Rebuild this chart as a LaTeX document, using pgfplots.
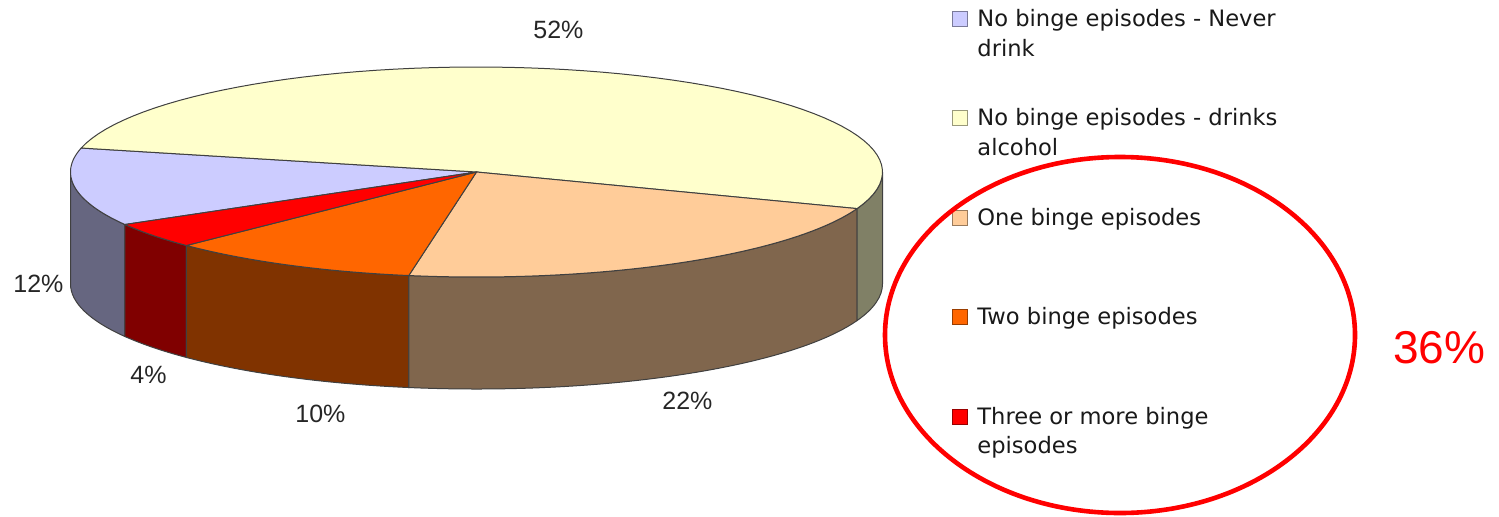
\documentclass[border=0pt]{standalone}
\usepackage{pgfplots}
\pgfplotsset{compat=1.18}
\usepackage{pgfplotstable}
\usepackage{fontspec}
\setmainfont{DejaVu Sans}
\newfontfamily\arialfont{Liberation Sans}

\definecolor{blueT}{HTML}{CCCCFF}\definecolor{blueS}{HTML}{666680}
\definecolor{yelT}{HTML}{FFFFCC}\definecolor{yelS}{HTML}{808066}
\definecolor{peaT}{HTML}{FFCC99}\definecolor{peaS}{HTML}{80664D}
\definecolor{oraT}{HTML}{FF6600}\definecolor{oraS}{HTML}{803300}
\definecolor{redT}{HTML}{FF0000}\definecolor{redS}{HTML}{800000}
\definecolor{edge}{HTML}{404040}

% share of each group, in legend order
\pgfplotstableread{
pct
12
52
22
10
4
}\piedata

\def\cx{476.5}\def\cy{344}\def\rx{406}\def\ry{105}\def\dd{112}

\newcommand\wall[3]{%
  \addplot[fill=#3, draw=edge, line width=0.5pt, domain=#1:#2, samples=40]
    ({\cx+\rx*cos(x)}, {\cy+\ry*sin(x)})
    -- (axis cs:{\cx+\rx*cos(#2)},{\cy-\dd+\ry*sin(#2)})
    arc[start angle=#2, end angle=#1, x radius=203pt, y radius=52.5pt] -- cycle;}
\newcommand\topslice[3]{%
  \addplot[fill=#3, draw=edge, line width=0.5pt, domain=#1:#2, samples=70]
    ({\cx+\rx*cos(x)}, {\cy+\ry*sin(x)}) -- (axis cs:\cx,\cy) -- cycle;}
\newcommand\legsq[2]{% baseline(px from top), colour
  \filldraw[fill=#2, draw=#2!60!black, line width=0.5pt]
    (axis cs:952,{516-#1+0}) rectangle (axis cs:967,{516-#1+15});}

\begin{document}
\begin{tikzpicture}
\pgfplotstablegetelem{0}{pct}\of\piedata \pgfmathsetmacro\pA{\pgfplotsretval}
\pgfplotstablegetelem{1}{pct}\of\piedata \pgfmathsetmacro\pB{\pgfplotsretval}
\pgfplotstablegetelem{2}{pct}\of\piedata \pgfmathsetmacro\pC{\pgfplotsretval}
\pgfplotstablegetelem{3}{pct}\of\piedata \pgfmathsetmacro\pD{\pgfplotsretval}
\pgfplotstablegetelem{4}{pct}\of\piedata \pgfmathsetmacro\pE{\pgfplotsretval}
\pgfmathsetmacro\aZ{210}
\pgfmathsetmacro\aA{\aZ-3.6*\pA}
\pgfmathsetmacro\aB{\aA-3.6*\pB}
\pgfmathsetmacro\aC{\aB-3.6*\pC}
\pgfmathsetmacro\aD{\aC-3.6*\pD}
\pgfmathsetmacro\aE{\aD-3.6*\pE}
\pgfmathsetmacro\wB{\aB+360}
\pgfmathsetmacro\wC{\aC+360}
\pgfmathsetmacro\wD{\aD+360}
\pgfmathsetmacro\wE{\aE+360}
\begin{axis}[
  x=0.5pt, y=0.5pt, xmin=0, xmax=1499, ymin=0, ymax=516,
  hide axis, clip=false, no markers,
]
\path (rel axis cs:0,0) rectangle (rel axis cs:1,1);
% side walls (front)
\wall{180}{\aZ}{blueS}
\wall{\wE}{\wD}{redS}
\wall{\wD}{\wC}{oraS}
\wall{\wC}{\wB}{peaS}
\wall{\wB}{360}{yelS}
% top faces
\topslice{\aA}{\aZ}{blueT}
\topslice{\aB}{\aA}{yelT}
\topslice{\aC}{\aB}{peaT}
\topslice{\aD}{\aC}{oraT}
\topslice{\aE}{\aD}{redT}
% value labels
\begin{scope}[every node/.style={anchor=base west, inner sep=0pt, text=black!85, font=\arialfont\fontsize{12.5}{14}\selectfont}]
\node at (axis cs:533,{516-38}) {52\%};
\node at (axis cs:13,{516-292}) {12\%};
\node at (axis cs:130,{516-383}) {4\%};
\node at (axis cs:295,{516-422}) {10\%};
\node at (axis cs:662,{516-409}) {22\%};
\end{scope}
% legend
\legsq{26.7}{blueT}
\legsq{125.5}{yelT}
\legsq{225}{peaT}
\legsq{324.5}{oraT}
\legsq{424}{redT}
\begin{scope}[every node/.style={anchor=base west, inner sep=0pt, text=black!90, font=\fontsize{11.3}{15}\selectfont}]
\node at (axis cs:977,{516-26.7}) {No binge episodes - Never};
\node at (axis cs:977,{516-56.7}) {drink};
\node at (axis cs:977,{516-125.5}) {No binge episodes - drinks};
\node at (axis cs:977,{516-155.5}) {alcohol};
\node at (axis cs:977,{516-225}) {One binge episodes};
\node at (axis cs:977,{516-324.5}) {Two binge episodes};
\node at (axis cs:977,{516-424}) {Three or more binge};
\node at (axis cs:977,{516-453}) {episodes};
\end{scope}
% highlight
\draw[red, line width=2.3pt] (axis cs:1120,{516-335}) ellipse [x radius=117.5pt, y radius=89pt];
\node[anchor=base west, inner sep=0pt, text=red, font=\arialfont\fontsize{23}{26}\selectfont] at (axis cs:1393,{516-363}) {36\%};
\end{axis}
\end{tikzpicture}
\end{document}
